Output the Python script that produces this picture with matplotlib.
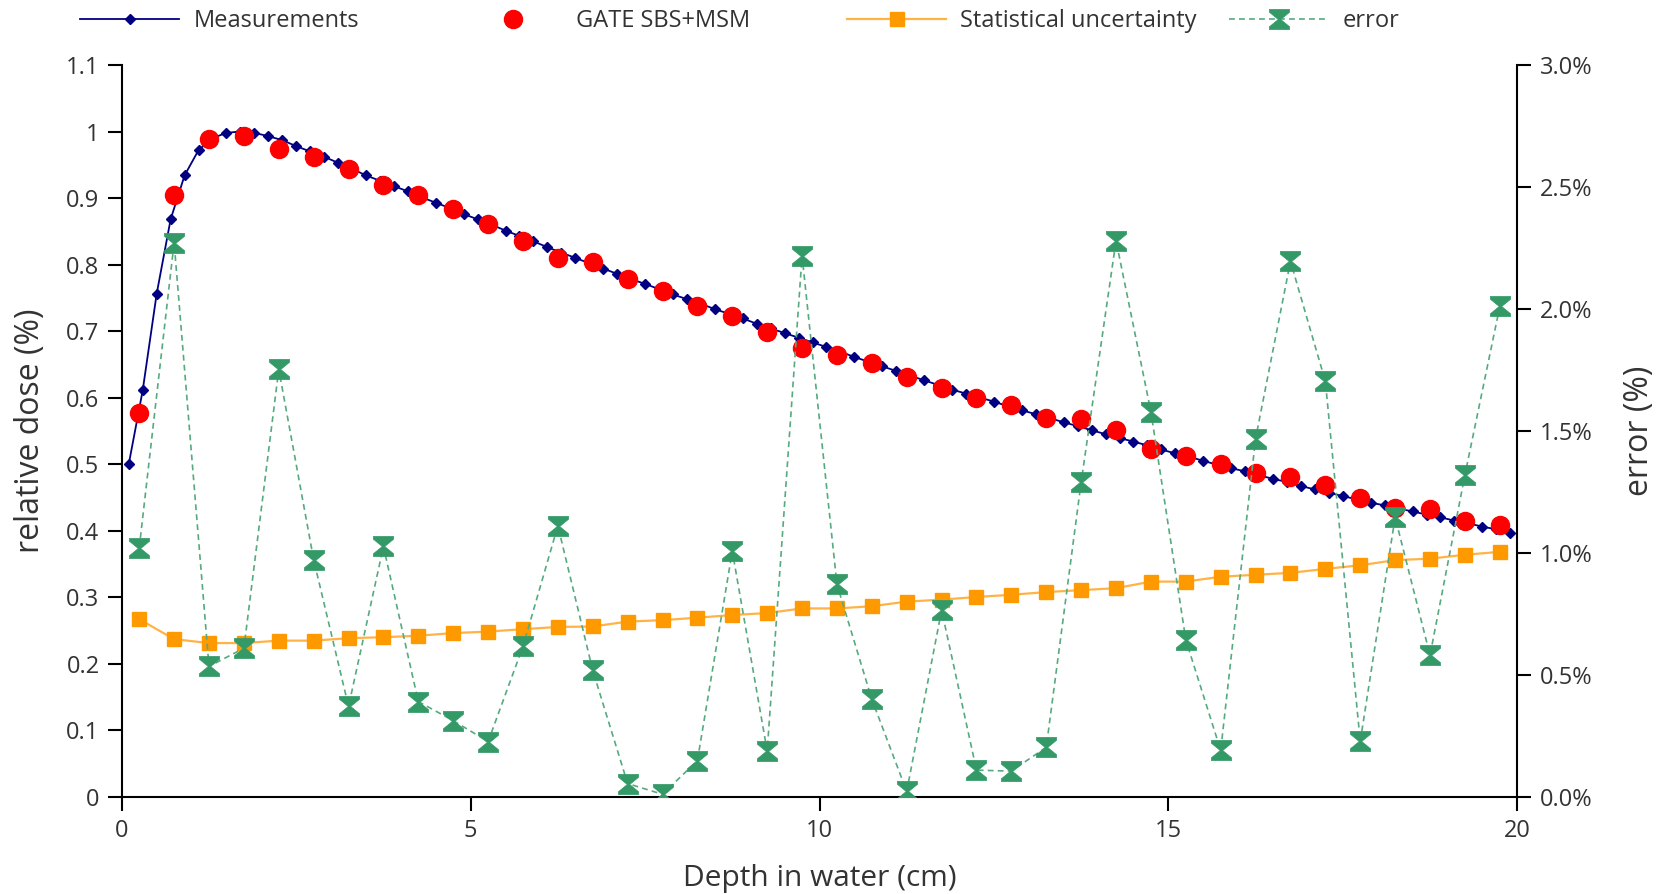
import numpy as np
import matplotlib
matplotlib.use("Agg")
import matplotlib.pyplot as plt
from matplotlib.lines import Line2D
from matplotlib.ticker import FuncFormatter, FixedLocator

# ---------------- data ----------------
depth_meas = np.round(np.arange(0.1, 20.0, 0.2), 2)   # 0.1 ... 19.9 cm
measurements = [
    0.500, 0.611, 0.756, 0.868, 0.934, 0.972, 0.990, 0.998, 1.000, 0.998,
    0.993, 0.987, 0.978, 0.970, 0.962, 0.953, 0.944, 0.934, 0.926, 0.918,
    0.910, 0.901, 0.893, 0.885, 0.876, 0.868, 0.860, 0.851, 0.843, 0.835,
    0.826, 0.818, 0.810, 0.802, 0.794, 0.786, 0.778, 0.771, 0.763, 0.755,
    0.748, 0.741, 0.733, 0.726, 0.719, 0.711, 0.704, 0.697, 0.690, 0.683,
    0.676, 0.669, 0.661, 0.654, 0.647, 0.640, 0.633, 0.626, 0.619, 0.612,
    0.606, 0.600, 0.594, 0.587, 0.581, 0.575, 0.569, 0.563, 0.557, 0.551,
    0.545, 0.539, 0.534, 0.528, 0.522, 0.516, 0.511, 0.505, 0.499, 0.494,
    0.489, 0.483, 0.478, 0.473, 0.467, 0.462, 0.457, 0.452, 0.447, 0.442,
    0.438, 0.433, 0.429, 0.424, 0.420, 0.415, 0.411, 0.406, 0.402, 0.397,
]

depth_sim = np.round(np.arange(0.25, 20.0, 0.5), 2)   # 0.25 ... 19.75 cm
gate_sbs_msm = [
    0.577, 0.904, 0.989, 0.994, 0.973, 0.961, 0.944, 0.920, 0.904, 0.884,
    0.861, 0.836, 0.810, 0.804, 0.778, 0.760, 0.738, 0.723, 0.698, 0.675,
    0.664, 0.652, 0.631, 0.615, 0.599, 0.589, 0.570, 0.568, 0.552, 0.522,
    0.512, 0.500, 0.487, 0.481, 0.468, 0.449, 0.434, 0.432, 0.415, 0.408,
]
stat_uncertainty = [   # percent
    0.728, 0.646, 0.630, 0.630, 0.640, 0.640, 0.650, 0.654, 0.660, 0.671,
    0.677, 0.687, 0.696, 0.698, 0.718, 0.724, 0.734, 0.745, 0.753, 0.772,
    0.772, 0.781, 0.800, 0.808, 0.819, 0.828, 0.839, 0.847, 0.855, 0.882,
    0.882, 0.902, 0.910, 0.918, 0.934, 0.949, 0.970, 0.976, 0.992, 1.004,
]
error = [   # percent
    1.020, 2.272, 0.534, 0.609, 1.752, 0.972, 0.370, 1.026, 0.390, 0.312,
    0.226, 0.616, 1.111, 0.518, 0.054, 0.010, 0.148, 1.007, 0.187, 2.217,
    0.871, 0.399, 0.022, 0.765, 0.109, 0.105, 0.203, 1.290, 2.280, 1.578,
    0.643, 0.190, 1.468, 2.195, 1.703, 0.227, 1.146, 0.580, 1.319, 2.010,
]

x_ticks = [0, 5, 10, 15, 20]
left_ticks = [0, 0.1, 0.2, 0.3, 0.4, 0.5, 0.6, 0.7, 0.8, 0.9, 1.0, 1.1]
right_ticks = [0.0, 0.5, 1.0, 1.5, 2.0, 2.5, 3.0]

# ---------------- style ----------------
FONT = ["Open Sans", "DejaVu Sans"]
plt.rcParams["font.family"] = FONT
TXT = "#333333"
NAVY = "#000080"
RED = "#ff0000"
ORANGE = "#ff9900"
ORANGE_LINE = "#ffb347"
GREEN = "#339966"
GREEN_LINE = "#55aa80"

hourglass = [(-1, 1), (1, 1), (1, 0.72), (0.12, 0), (1, -0.72), (1, -1),
             (-1, -1), (-1, -0.72), (-0.12, 0), (-1, 0.72), (-1, 1)]

fig = plt.figure(figsize=(16.66, 8.94), dpi=100)
ax = fig.add_axes([0.0731, 0.1088, 0.9107 - 0.0731, 0.9273 - 0.1088])
ax2 = ax.twinx()

ax.plot(depth_meas, measurements, color=NAVY, lw=1.3, marker="D", ms=4.6,
        mfc=NAVY, mec=NAVY, zorder=3)
ax.plot(depth_sim, gate_sbs_msm, ls="none", marker="o", ms=13,
        mfc=RED, mec=RED, zorder=4)
ax2.plot(depth_sim, stat_uncertainty, color=ORANGE_LINE, lw=1.6, marker="s",
         ms=10.3, mfc=ORANGE, mec=ORANGE, zorder=3)
ax2.plot(depth_sim, error, color=GREEN_LINE, lw=1.2, ls=(0, (3.5, 2.5)),
         marker=hourglass, ms=14.5, mfc=GREEN, mec=GREEN, mew=0.5, zorder=4)

ax.set_xlim(0, 20)
ax.set_ylim(0, 1.1)
ax2.set_ylim(0, 3.0)

ax.xaxis.set_major_locator(FixedLocator(x_ticks))
ax.yaxis.set_major_locator(FixedLocator(left_ticks))
ax2.yaxis.set_major_locator(FixedLocator(right_ticks))
ax.yaxis.set_major_formatter(FuncFormatter(lambda v, p: f"{v:g}"))
ax2.yaxis.set_major_formatter(FuncFormatter(lambda v, p: f"{v:.1f}%"))

for a in (ax, ax2):
    a.spines["top"].set_visible(False)
    for s in a.spines.values():
        s.set_linewidth(1.5)
        s.set_color("black")
    a.tick_params(length=10, width=1.5, color="black", labelsize=17,
                  labelcolor=TXT, pad=6, direction="out")
ax.spines["right"].set_visible(False)
ax2.spines["left"].set_visible(False)
ax2.spines["bottom"].set_visible(False)

ax.set_xlabel("Depth in water (cm)", fontsize=21.5, color=TXT, labelpad=15)
ax.set_ylabel("relative dose (%)", fontsize=23, color=TXT, labelpad=14)
ax2.set_ylabel("error (%)", fontsize=23, color=TXT, labelpad=22)

# ---------------- legend (four evenly spaced entries) ----------------
handles = [
    Line2D([], [], color=NAVY, lw=1.3, marker="D", ms=4.6, mfc=NAVY, mec=NAVY),
    Line2D([], [], ls="none", marker="o", ms=13, mfc=RED, mec=RED),
    Line2D([], [], color=ORANGE_LINE, lw=1.6, marker="s", ms=10.3, mfc=ORANGE, mec=ORANGE),
    Line2D([], [], color=GREEN_LINE, lw=1.2, ls=(0, (3.5, 2.5)), marker=hourglass,
           ms=14.5, mfc=GREEN, mec=GREEN, mew=0.5),
]
labels = ["Measurements", "GATE SBS+MSM", "Statistical uncertainty", "error"]
starts = [0.048, 0.278, 0.5084, 0.7377]
for h, l, xs in zip(handles, labels, starts):
    fig.legend([h], [l], loc="center left", bbox_to_anchor=(xs, 0.976),
               frameon=False, borderpad=0, borderaxespad=0,
               handlelength=4.2, handletextpad=0.6, fontsize=17,
               labelcolor=TXT)

fig.savefig("out.png", dpi=100, facecolor="white")
